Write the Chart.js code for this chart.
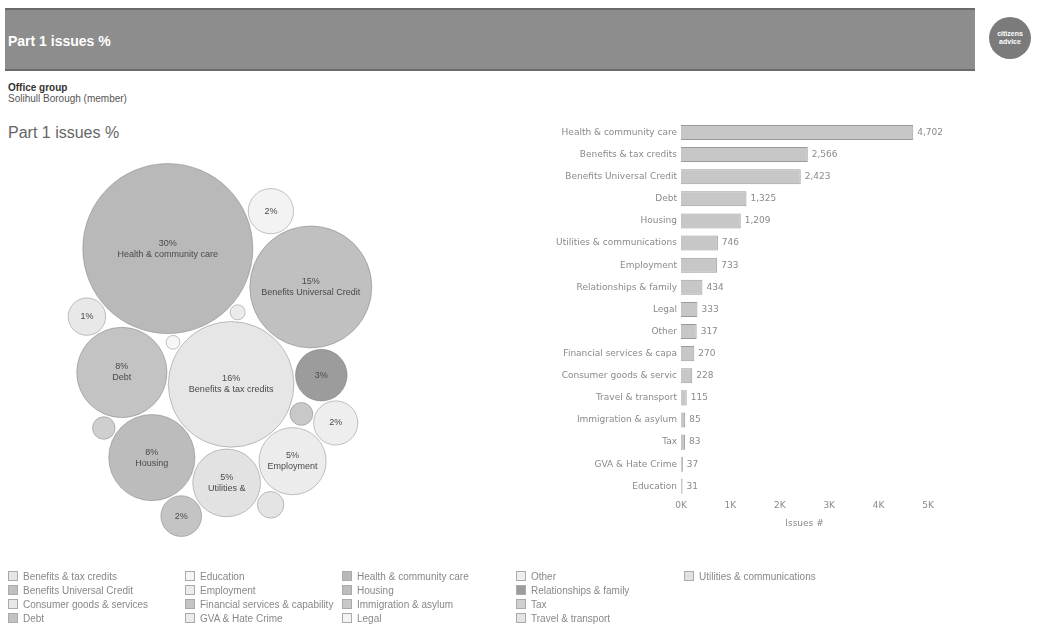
<!DOCTYPE html>
<html>
<head>
<meta charset="utf-8">
<script src="https://cdn.jsdelivr.net/npm/chart.js@4.4.1/dist/chart.umd.min.js"></script>
<style>
  body { margin: 0; width: 1038px; height: 634px; background: #fff; position: relative; overflow: hidden;
         font-family: "Liberation Sans", Arial, sans-serif; }
  #header { position: absolute; left: 5px; top: 8px; width: 970px; height: 59px; background: #8d8d8d;
            border-top: 2px solid #6a6a6a; border-bottom: 2px solid #6a6a6a; }
  #header span { position: absolute; left: 3px; top: 23px; color: #fff; font-weight: bold; font-size: 14px; }
  #logo { position: absolute; left: 989px; top: 17px; width: 42px; height: 42px; border-radius: 50%;
          background: #7b7b7b; color: #fff; font-size: 7px; font-weight: bold; text-align: center;
          line-height: 8px; padding-top: 13px; box-sizing: border-box; }
  #office { position: absolute; left: 8px; top: 82px; font-size: 10px; line-height: 11px; color: #555; }
  #office b { color: #333; }
  #subtitle { position: absolute; left: 8px; top: 124px; font-size: 16px; color: #666; }
  #bubbleBox { position: absolute; }
  #barBox { position: absolute; left: 530px; top: 112px; width: 430px; height: 421px; }
  #legend { position: absolute; left: 8px; top: 569px; display: grid; grid-template-rows: repeat(4, 14px);
            grid-auto-flow: column; grid-template-columns: 177px 157px 174px 168px 150px;
            font-size: 10px; color: #888; }
  #legend div { display: flex; align-items: center; white-space: nowrap; }
  #legend i { display: inline-block; width: 8px; height: 8px; margin-right: 5px; border: 1px solid #aaa; }
</style>
</head>
<body>
<div id="header"><span>Part 1 issues %</span></div>
<div id="logo">citizens<br>advice</div>
<div id="office"><b>Office group</b><br>Solihull Borough (member)</div>
<div id="subtitle">Part 1 issues %</div>
<div id="bubbleBox"><canvas id="bubbles"></canvas></div>
<div id="barBox"><canvas id="bars"></canvas></div>
<div id="legend"></div>
<script>
// issue categories, sorted by number of issues (bar chart order)
const categories = ['Health & community care', 'Benefits & tax credits', 'Benefits Universal Credit', 'Debt',
  'Housing', 'Utilities & communications', 'Employment', 'Relationships & family', 'Legal', 'Other',
  'Financial services & capability', 'Consumer goods & services', 'Travel & transport',
  'Immigration & asylum', 'Tax', 'GVA & Hate Crime', 'Education'];
const issues = [4702, 2566, 2423, 1325, 1209, 746, 733, 434, 333, 317, 270, 228, 115, 85, 83, 37, 31];
const xTicks = ['0K', '1K', '2K', '3K', '4K', '5K'];

// grey shades of the printed palette, one per category
const shades = ['#b9b9b9', '#e6e6e6', '#c0c0c0', '#c3c3c3', '#bcbcbc', '#e2e2e2', '#ececec', '#9c9c9c',
  '#f3f3f3', '#eeeeee', '#c4c4c4', '#e8e8e8', '#e4e4e4', '#c8c8c8', '#cfcfcf', '#ebebeb', '#f6f6f6'];

const total = issues.reduce((a, b) => a + b, 0);
const pct = v => Math.round(v / total * 100) + '%';

// simple greedy circle packing, biggest first
function packCircles(radii, gap, target, squash) {
  const out = [];
  const ok = (x, y, r) => out.every(c => Math.hypot(c.x - x, c.y - y) >= c.r + r + gap - 0.01);
  const score = (x, y) => Math.hypot(x - target[0], (y - target[1]) * squash);
  radii.forEach((r, i) => {
    if (i === 0) { out.push({ x: 0, y: 0, r }); return; }
    let best = null;
    const tryPos = (x, y) => {
      if (!ok(x, y, r)) return;
      const s = score(x, y);
      if (!best || s < best.s) best = { x, y, s };
    };
    out.forEach(a => {
      for (let k = 0; k < 72; k++) {
        const t = k * Math.PI / 36, d = a.r + r + gap;
        tryPos(a.x + d * Math.cos(t), a.y + d * Math.sin(t));
      }
    });
    for (let p = 0; p < out.length; p++) for (let q = p + 1; q < out.length; q++) {
      const a = out[p], b = out[q];
      const da = a.r + r + gap, db = b.r + r + gap;
      const dx = b.x - a.x, dy = b.y - a.y, d = Math.hypot(dx, dy);
      if (d > da + db || d < Math.abs(da - db)) continue;
      const l = (da * da - db * db + d * d) / (2 * d);
      const h = Math.sqrt(Math.max(0, da * da - l * l));
      const mx = a.x + l * dx / d, my = a.y + l * dy / d;
      tryPos(mx - h * dy / d, my + h * dx / d);
      tryPos(mx + h * dy / d, my - h * dx / d);
    }
    out.push({ x: best.x, y: best.y, r });
  });
  return out;
}

const radii = issues.map(v => 1.24 * Math.sqrt(v));
const packed = packCircles(radii, 2, [50, 109], 0.8);
const minX = Math.min(...packed.map(c => c.x - c.r)), maxX = Math.max(...packed.map(c => c.x + c.r));
const minY = Math.min(...packed.map(c => c.y - c.r)), maxY = Math.max(...packed.map(c => c.y + c.r));
const offX = 220 - (minX + maxX) / 2, offY = 210 - (minY + maxY) / 2;
const bubbleData = packed.map(c => ({ x: c.x + offX, y: c.y + offY, r: c.r }));

// Chart.js pads the bubble area by the largest radius; grow the box so 1 unit = 1 px
const bw = 1, pad = Math.max(...radii) + bw;
const box = document.getElementById('bubbleBox');
Object.assign(box.style, { left: -pad + 'px', top: (140 - pad) + 'px',
  width: (520 + 2 * pad) + 'px', height: (420 + 2 * pad) + 'px' });

Chart.defaults.font.family = '"Liberation Sans", Arial, sans-serif';
Chart.defaults.animation = false;
const axisFont = '"DejaVu Sans", Verdana, sans-serif';

function wrapText(ctx, text, maxW) {
  const words = text.split(' '), lines = [];
  let cur = '';
  words.forEach(w => {
    const t = cur ? cur + ' ' + w : w;
    if (ctx.measureText(t).width > maxW && cur) { lines.push(cur); cur = w; } else cur = t;
  });
  if (cur) lines.push(cur);
  return lines;
}

const bubbleLabels = {
  id: 'bubbleLabels',
  afterDatasetsDraw(chart) {
    const ctx = chart.ctx;
    ctx.save();
    ctx.font = '9px "Liberation Sans", Arial, sans-serif';
    ctx.fillStyle = '#4a4a4a';
    ctx.textAlign = 'center';
    ctx.textBaseline = 'middle';
    chart.getDatasetMeta(0).data.forEach((el, i) => {
      const r = radii[i];
      if (r < 15) return;
      let lines = [pct(issues[i])];
      if (r >= 40) lines = lines.concat(wrapText(ctx, categories[i], r * 1.7));
      else if (r >= 30) lines.push(wrapText(ctx, categories[i], r * 1.5)[0]);
      const h = 11;
      lines.forEach((s, k) => ctx.fillText(s, el.x, el.y + (k - (lines.length - 1) / 2) * h));
    });
    ctx.restore();
  }
};

new Chart(document.getElementById('bubbles'), {
  type: 'bubble',
  data: {
    datasets: [{
      data: bubbleData,
      backgroundColor: shades,
      borderColor: shades.map(() => 'rgba(90,90,90,0.35)'),
      borderWidth: bw,
      hoverRadius: 0
    }]
  },
  options: {
    responsive: true, maintainAspectRatio: false,
    layout: { padding: 0 },
    plugins: { legend: { display: false }, tooltip: { enabled: false } },
    scales: {
      x: { type: 'linear', display: false, min: 0, max: 520 },
      y: { type: 'linear', display: false, min: 0, max: 420, reverse: true }
    }
  },
  plugins: [bubbleLabels]
});

// bar value labels
const barValues = {
  id: 'barValues',
  afterDatasetsDraw(chart) {
    const ctx = chart.ctx;
    ctx.save();
    ctx.font = '9px ' + axisFont;
    ctx.fillStyle = '#8a8a8a';
    ctx.textBaseline = 'middle';
    chart.getDatasetMeta(0).data.forEach((el, i) => {
      ctx.fillText(issues[i].toLocaleString('en-GB'), el.x + 4, el.y);
    });
    ctx.restore();
  }
};

const measure = document.createElement('canvas').getContext('2d');
measure.font = '9px ' + axisFont;
const labelMax = measure.measureText('Utilities & communications').width - 4;
function clip(s) {
  if (s === 'Utilities & communications') return s;
  let t = s;
  while (measure.measureText(t).width > labelMax) t = t.slice(0, -1);
  return t.trimEnd();
}

new Chart(document.getElementById('bars'), {
  type: 'bar',
  data: {
    labels: categories,
    datasets: [{
      data: issues,
      backgroundColor: '#c7c7c7',
      borderColor: '#9a9a9a',
      borderWidth: 1,
      barPercentage: 0.68,
      categoryPercentage: 1
    }]
  },
  options: {
    indexAxis: 'y',
    responsive: true, maintainAspectRatio: false,
    layout: { padding: { top: 5, right: 32, left: 0, bottom: 0 } },
    plugins: { legend: { display: false }, tooltip: { enabled: false } },
    scales: {
      x: {
        min: 0, max: 5000,
        grid: { display: false, drawTicks: false },
        border: { display: false },
        ticks: { stepSize: 1000, color: '#8a8a8a', font: { size: 9, family: axisFont }, padding: 3,
                 callback: (v, i) => xTicks[i] },
        title: { display: true, text: 'Issues #', color: '#8a8a8a', font: { size: 9, family: axisFont }, padding: 4 }
      },
      y: {
        grid: { display: false, drawTicks: false },
        border: { display: false },
        afterFit: s => { s.width = 151; },
        ticks: { color: '#8a8a8a', font: { size: 9, family: axisFont }, padding: 4,
                 callback: (v, i) => clip(categories[i]) }
      }
    }
  },
  plugins: [barValues]
});

// legend, alphabetical, filled column by column
const legend = document.getElementById('legend');
categories.map((c, i) => ({ c, col: shades[i] }))
  .sort((a, b) => a.c.localeCompare(b.c))
  .forEach(o => {
    const d = document.createElement('div');
    d.innerHTML = '<i style="background:' + o.col + '"></i>' + o.c;
    legend.appendChild(d);
  });
</script>
</body>
</html>
